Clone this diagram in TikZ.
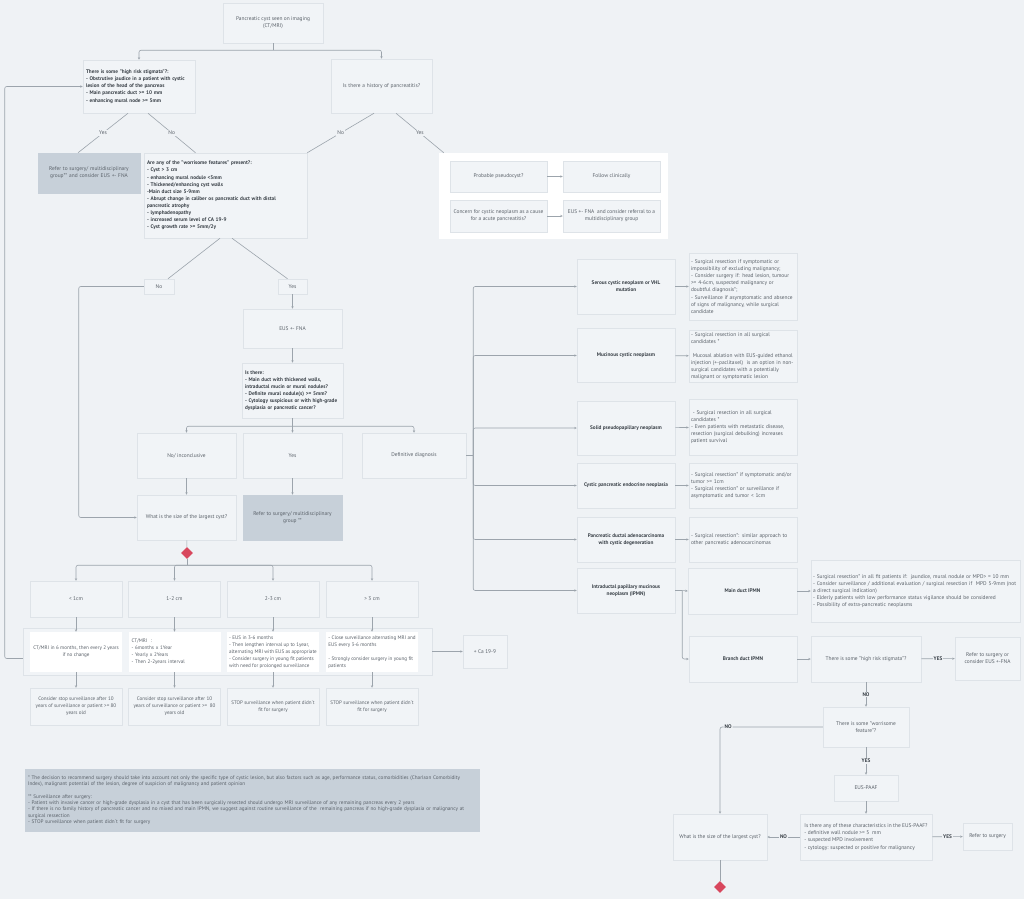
\documentclass[tikz,border=0pt]{standalone}
\usepackage{fontspec}
\setmainfont{PT Sans}
\usetikzlibrary{arrows.meta,shapes.geometric}
\definecolor{bg}{HTML}{EFF2F5}
\definecolor{boxfill}{HTML}{F1F4F7}
\definecolor{boxline}{HTML}{DEE3E8}
\definecolor{shade}{HTML}{C7D0D9}
\definecolor{ink}{HTML}{5A6169}
\definecolor{darkink}{HTML}{3A4148}
\definecolor{wire}{HTML}{9CA4AC}
\definecolor{alert}{HTML}{D8475D}
\hyphenpenalty=10000
\begin{document}
\begin{tikzpicture}[x=1pt, y=-1pt,
  box/.style={draw=boxline, fill=boxfill, line width=0.5pt, inner xsep=3pt, inner ysep=2pt,
    align=center, text=ink, font=\fontsize{5.4}{7.1}\selectfont},
  grey/.style={box, fill=shade, draw=shade},
  strong/.style={box, align=left, text=darkink, font=\fontsize{5.25}{7.1}\selectfont\bfseries},
  strongc/.style={box, text=darkink, font=\fontsize{5.25}{7.1}\selectfont\bfseries},
  plain/.style={box, align=left},
  small/.style={box, font=\fontsize{5.1}{7.1}\selectfont},
  blank/.style={small, fill=white, draw=none, inner ysep=1pt},
  sz/.style n args={3}{minimum width=#1, minimum height=#2, text width=#3},
  wh/.style 2 args={minimum width=#1, minimum height=#2},
  lbl/.style={fill=bg, inner sep=1pt, text=ink, font=\fontsize{5.4}{7}\selectfont},
  lblb/.style={lbl, text=darkink, font=\fontsize{5.25}{7}\selectfont\bfseries},
  wire/.style={draw=wire, line width=0.6pt},
  arr/.style={wire, -{Stealth[length=2.5pt,width=2.2pt]}},
]
\path[use as bounding box, fill=bg] (0,0) rectangle (1024,899);

\node[box, wh={100}{40}] (start) at (273,23) {Pancreatic cyst seen on imaging\\(CT/MRI)};
\node[strong, sz={112}{53}{106}] (stigmata) at (139,86.5) {There is some "high risk stigmata"?:\\- Obstrutive jaudice in a patient with cystic lesion of the head of the pancreas\\- Main pancreatic duct >= 10 mm\\- enhancing mural node >= 5mm};
\node[box, sz={101}{54}{95}] (history) at (381.5,86) {Is there a history of pancreatitis?};
\node[grey, sz={102}{40}{96}] (surgery) at (89,173) {Refer to surgery/ multidisciplinary group** and consider EUS +- FNA};
\node[strong, wh={163}{85}, text width=157] (worrisome) at (225.5,195.5) {Are any of the "worrisome features" present?:\\- Cyst > 3 cm\\- enhancing mural nodule <5mm\\- Thickened/enhancing cyst walls\\-Main duct size 5-9mm\\- Abrupt change in caliber os pancreatic duct with distal\\pancreatic atrophy\\- lymphadenopathy\\- increased serum level of CA 19-9\\- Cyst growth rate >= 5mm/2y};

\node[fill=white, wh={229}{86}] (panel) at (553.5,196) {};
\node[box, wh={97}{31}] (pseudo) at (498.5,176.5) {Probable pseudocyst?};
\node[box, wh={97}{31}] (follow) at (611.5,176.5) {Follow clinically};
\node[box, wh={97}{32}] (concern) at (498.5,216) {Concern for cystic neoplasm as a cause\\for a acute pancreatitis?};
\node[box, wh={97}{32}] (referral) at (611.5,216) {EUS +- FNA\ \ and consider referral to a\\multidisciplinary group};
\draw[arr] (pseudo) -- (follow);
\draw[arr] (concern) -- (referral);

\draw[wire, rounded corners=2pt] (start.south) -- ++(0,7) coordinate (split);
\draw[arr, rounded corners=2pt] (split) -| (stigmata.north);
\draw[arr, rounded corners=2pt] (split) -| (history.north);
\draw[wire] ([xshift=-11pt]stigmata.south) -- node[lbl]{Yes} ([xshift=-11pt]surgery.north);
\draw[wire] ([xshift=9pt]stigmata.south) -- node[lbl]{No} ([xshift=-30pt]worrisome.north);
\draw[wire] ([xshift=-7.5pt]history.south) -- node[lbl]{No} (worrisome.north east);
\draw[wire] ([xshift=14.5pt]history.south) -- node[lbl]{Yes} ([xshift=5pt]panel.north west);

\node[box, wh={30}{15}] (nobox) at (159,286.5) {No};
\node[box, wh={29}{15}] (yesbox) at (292.5,286.5) {Yes};
\draw[wire] ([xshift=-5.5pt]worrisome.south) -- ([xshift=9pt]nobox.north);
\draw[wire] ([xshift=6.5pt]worrisome.south) -- ([xshift=-5pt]yesbox.north);

\node[box, wh={99}{39}] (eus) at (292.5,328.5) {EUS +- FNA};
\node[strong, sz={99}{55}{95}] (isthere) at (292.5,390.5) {Is there:\\- Main duct with thickened walls, intraductal mucin or mural nodules?\\- Definite mural nodule(s) >= 5mm?\\- Cytology suspicious or with high-grade dysplasia or pancreatic cancer?};
\draw[arr] (yesbox) -- (eus);
\draw[arr] (eus) -- (isthere);

\node[box, wh={99}{45}] (noinc) at (186.5,455.5) {No/ inconclusive};
\node[box, wh={99}{45}] (yes2) at (292.5,455.5) {Yes};
\node[box, wh={104}{45}] (defin) at (414,455.5) {Definitive diagnosis};
\draw[wire] (isthere.south) -- ++(0,8) coordinate (fork);
\draw[arr, rounded corners=2pt] (fork) -| (noinc.north);
\draw[arr] (fork) -- (yes2.north);
\draw[arr, rounded corners=2pt] (fork) -| (defin.north);

\node[box, wh={99}{45}] (size) at (186.5,517.5) {What is the size of the largest cyst?};
\node[grey, wh={99}{45}] (refer2) at (292.5,517.5) {Refer to surgery/ multidisciplinary\\group **};
\draw[arr] (noinc) -- (size);
\draw[arr] (yes2) -- (refer2);
\draw[arr, rounded corners=2pt] (nobox.west) -- ++(-65,0) |- (size.west);

\node[diamond, fill=alert, minimum size=12pt, inner sep=0pt] (gate) at (187,553) {};
\draw[wire] (size) -- (gate);
\draw[wire] (gate.south) -- ++(0,6) coordinate (fork2);

\node[box, wh={92}{36}] (lt1) at (76,599) {< 1cm};
\node[box, wh={92}{36}] (s12) at (174.5,599) {1-2 cm};
\node[box, wh={92}{36}] (s23) at (273,599) {2-3 cm};
\node[box, wh={92}{36}] (gt3) at (372,599) {> 3 cm};
\foreach \n in {lt1,s12,s23,gt3}
  \draw[arr, rounded corners=2pt] (fork2) -| (\n.north);

\node[box, wh={409}{47}] (plan) at (227.5,651.5) {};
\node[blank, wh={92}{40}] (p1) at (76,652) {CT/MRI in 6 months, then every 2 years\\if no change};
\node[blank, align=left, wh={92}{40}, text width=86] (p2) at (174.5,652) {CT/MRI\ \ :\\- 6months x 1Year\\- Yearly x 2Years\\- Then 2-2years interval};
\node[blank, align=left, wh={92}{40}, inner xsep=1.5pt] (p3) at (273,652) {- EUS in 3-6 months\\- Then lengthen interval up to 1year,\\alternating MRI with EUS as appropriate\\- Consider surgery in young fit patients\\with need for prolonged surveillance};
\node[blank, align=left, wh={92}{40}, inner xsep=1.5pt] (p4) at (372,652) {- Close surveillance alternating MRI and\\EUS every 3-6 months\\[7.1pt]- Strongly consider surgery in young fit\\patients};

\node[small, wh={92}{37}] (b1) at (76,706.5) {Consider stop surveillance after 10\\years of surveillance or patient >= 80\\years old};
\node[small, wh={92}{37}] (b2) at (174.5,706.5) {Consider stop surveillance after 10\\years of surveillance or patient >=\ \ 80\\years old};
\node[small, wh={92}{37}] (b3) at (273,706.5) {STOP surveillance when patient didn´t\\fit for surgery};
\node[small, wh={92}{37}] (b4) at (372,706.5) {STOP surveillance when patient didn´t\\fit for surgery};
\foreach \a/\b/\c in {lt1/p1/b1,s12/p2/b2,s23/p3/b3,gt3/p4/b4} {
  \draw[arr] (\a) -- (\b);
  \draw[arr] (\b) -- (\c);
}
\draw[arr, rounded corners=2pt] ([yshift=-7pt]plan.west) -- ++(-18,0) |- (stigmata.west);
\node[box, wh={44}{33}] (ca) at (485,651.5) {+ Ca 19-9};
\draw[arr] (plan) -- (ca);

\node[grey, align=left, sz={454}{62}{448}, font=\fontsize{5.2}{6.3}\selectfont] (notes) at (252,800) {* The decision to recommend surgery should take into account not only the specific type of cystic lesion, but also factors such as age, performance status, comorbidities (Charlson Comorbidity Index), malignant potential of the lesion, degree of suspicion of malignancy and patient opinion\\[6.3pt]** Surveillance after surgery:\\- Patient with invasive cancer or high-grade dysplasia in a cyst that has been surgically resected should undergo MRI surveillance of any remaining pancreas every 2 years\\- If there is no family history of pancreatic cancer and no mixed and main IPMN, we suggest against routine surveillance of the\ \ remaining pancreas if no high-grade dysplasia or malignancy at surgical ressection\\- STOP surveillance when patient didn´t fit for surgery};

\node[strongc, wh={98}{55}] (serous) at (626,286.5) {Serous cystic neoplasm or VHL\\mutation};
\node[strongc, wh={98}{54}] (mucinous) at (626,355.5) {Mucinous cystic neoplasm};
\node[strongc, wh={98}{54}] (solid) at (626,428) {Solid pseudopapillary neoplasm};
\node[strongc, wh={98}{45}] (cpen) at (626,485.5) {Cystic pancreatic endocrine neoplasia};
\node[strongc, wh={98}{45}] (pdac) at (626,539.5) {Pancreatic ductal adenocarcinoma\\with cystic degeneration};
\node[strongc, wh={98}{45}] (ipmn) at (626,590.5) {Intraductal papillary mucinous\\neoplasm (IPMN)};
\draw[wire] (defin.east) -- ++(7,0) coordinate (bus);
\foreach \n in {serous,mucinous,solid,cpen,pdac,ipmn}
  \draw[arr, rounded corners=2pt] (bus) |- (\n.west);

\node[plain, wh={108}{67}, text width=104, inner xsep=2pt] (dserous) at (743,286.5) {- Surgical resection if symptomatic or\\impossibility of excluding malignancy;\\- Consider surgery if: head lesion, tumour\\>= 4-6cm, suspected malignancy or\\doubtful diagnosis*;\\- Surveillance if asymptomatic and absence\\of signs of malignancy, while surgical\\candidate};
\node[plain, wh={108}{52}, text width=104, inner xsep=2pt, inner ysep=0.5pt] (dmucinous) at (743,356) {- Surgical resection in all surgical\\candidates *\\[7.1pt]\ Mucosal ablation with EUS-guided ethanol\\injection (+-paclitaxel)\ \ is an option in non-\\surgical candidates with a potentially\\malignant or symptomatic lesion};
\node[plain, wh={108}{56}, text width=104, inner xsep=2pt] (dsolid) at (743,427) {\ - Surgical resection in all surgical\\candidates *\\- Even patients with metastatic disease,\\resection (surgical debulking) increases\\patient survival};
\node[plain, wh={108}{45}, text width=104, inner xsep=2pt] (dcpen) at (743,485.5) {- Surgical resection* if symptomatic and/or\\tumor >= 1cm\\- Surgical resection* or surveillance if\\asymptomatic and tumor < 1cm};
\node[plain, wh={108}{45}, text width=104, inner xsep=2pt] (dpdac) at (743,539.5) {- Surgical resection*: similar approach to\\other pancreatic adenocarcinomas};
\foreach \a/\b in {serous/dserous,mucinous/dmucinous,solid/dsolid,cpen/dcpen,pdac/dpdac}
  \draw[arr] (\a) -- (\b);

\node[strongc, wh={109}{46}] (mainduct) at (742.5,591) {Main duct IPMN};
\node[strongc, wh={108}{46}] (branchduct) at (743,659) {Branch duct IPMN};
\draw[wire] (ipmn.east) -- ++(7,0) coordinate (bus2);
\draw[arr] (bus2) -- (mainduct.west);
\draw[arr, rounded corners=2pt] (bus2) |- (branchduct.west);
\node[plain, wh={209}{62}, text width=205, inner xsep=2pt] (mdesc) at (915.5,591) {- Surgical resection* in all fit patients if:\ \ jaundice, mural nodule or MPD> = 10 mm\\- Consider surveillance / additional evaluation / surgical resection if\ \ MPD 5-9mm (not\\a direct surgical indication)\\- Elderly patients with low performance status vigilance should be considered\\- Possibility of extra-pancreatic neoplasms};
\draw[arr] (mainduct) -- (mdesc);

\node[box, wh={110}{46}] (stigmata2) at (866,659) {There is some "high risk stigmata"?};
\node[box, wh={65}{43}] (refer3) at (987.5,658.5) {Refer to surgery or\\consider EUS +-FNA};
\node[box, wh={86}{40}] (worry2) at (866,727) {There is some "worrisome\\feature"?};
\node[box, wh={64}{26}] (eus2) at (866,788) {EUS-PAAF};
\node[plain, wh={132}{46}, inner xsep=2pt] (chars) at (866,837) {Is there any of these characteristics in the EUS-PAAF?\\- definitive wall nodule >= 5\ \ mm\\- suspected MPD involvement\\- cytology: suspected or positive for malignancy};
\node[box, wh={94}{46}] (size2) at (720,837) {What is the size of the largest cyst?};
\node[box, wh={49}{27}] (refer4) at (987.5,836.5) {Refer to surgery};
\node[diamond, fill=alert, minimum size=12pt, inner sep=0pt] (gate2) at (720,887) {};
\draw[arr] (branchduct) -- (stigmata2);
\draw[arr] (stigmata2) -- node[lblb]{YES} (refer3);
\draw[arr] (stigmata2) -- node[lblb]{NO} (worry2);
\draw[arr] (worry2) -- node[lblb]{YES} (eus2);
\draw[arr] (eus2) -- (chars);
\draw[arr] (chars) -- node[lblb]{NO} (size2);
\draw[arr] (chars) -- node[lblb]{YES} (refer4);
\draw[arr, rounded corners=2pt] (worry2.west) -| node[lblb, pos=0.46]{NO} (size2.north);
\draw[wire] (size2) -- (gate2);
\end{tikzpicture}
\end{document}
